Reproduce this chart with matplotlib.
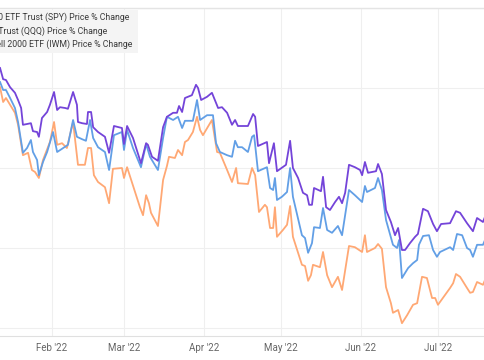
import numpy as np
import matplotlib
matplotlib.use("Agg")
import matplotlib.pyplot as plt
import matplotlib.dates as mdates
from matplotlib.patches import Rectangle

# x values: days since 2022-01-01 ; y values: price % change
spy_days = [10.8, 12.0, 13.1, 14.7, 16.6, 17.8, 19.0, 19.7, 21.3, 22.8, 23.6, 25.2, 25.9, 27.1, 29.1, 30.2,
            31.8, 33.0, 34.1, 36.1, 37.2, 39.2, 40.7, 41.1, 42.7, 44.6, 45.0, 46.2, 47.0, 48.9, 51.6, 53.2,
            55.1, 58.2, 59.0, 60.2, 62.5, 65.6, 67.6, 68.3, 69.9, 72.2, 74.2, 75.7, 78.1, 79.6, 80.4, 81.6,
            82.7, 85.4, 87.0, 87.8, 89.0, 91.3, 93.2, 95.6, 97.1, 99.1, 101.0, 102.2, 103.3, 107.2, 109.2,
            110.0, 111.1, 114.6, 115.4, 117.3, 118.5, 122.0, 123.6, 124.7, 126.7, 128.6, 130.2, 131.0, 132.1,
            132.9, 135.6, 136.4, 137.6, 139.1, 141.1, 142.6, 143.8, 145.0, 146.5, 148.8, 150.8, 151.6, 152.7,
            153.9, 157.0, 157.8, 159.3, 160.9, 162.8, 164.4, 165.6, 167.1, 168.3, 170.2, 172.2, 173.3, 175.3,
            177.2, 179.2, 180.7, 182.3, 185.8, 188.1, 189.7, 192.4, 194.7, 196.3, 198.6, 199.4]
spy_vals = [-7.5, -8.9, -9.0, -9.9, -10.6, -11.5, -12.5, -14.6, -14.5, -14.4, -15.4, -15.5, -16.1, -13.75, -13.0, -12.1,
            -10.5, -12.75, -12.4, -12.5, -12.6, -10.5, -12.1, -14.25, -14.4, -14.5, -13.0, -13.0, -14.9, -15.5, -16.1, -18.1,
            -14.75, -15.0, -17.0, -14.75, -16.25, -19.4, -16.9, -17.1, -18.6, -19.1, -14.9, -13.6, -13.1, -13.1, -12.25, -13.0,
            -11.25, -10.9, -9.6, -10.0, -11.5, -11.1, -10.6, -12.5, -12.4, -13.1, -14.6, -14.0, -14.75, -14.75, -13.25,
            -13.6, -17.25, -16.75, -19.4, -16.9, -20.4, -19.6, -16.6, -20.0, -21.25, -23.1, -23.4, -24.6, -24.6,
            -22.5, -22.9, -21.1, -24.9, -25.25, -24.25, -23.6, -24.4, -23.1, -19.6, -19.9, -20.25, -20.9, -19.25,
            -20.6, -20.4, -19.5, -20.75, -25.25, -26.75, -28.4, -27.5, -30.25, -30.25, -29.4, -28.6, -28.25, -25.1,
            -25.4, -27.0, -27.9, -27.0, -26.9, -25.4, -25.6, -26.9, -27.9, -26.25, -26.75, -26.1]

iwm_days = [10.8, 12.0, 13.1, 14.7, 16.6, 17.8, 19.7, 21.3, 22.8, 23.6, 25.2, 25.9, 27.5, 29.1, 31.4, 33.0,
            34.9, 37.2, 39.2, 40.7, 42.7, 44.2, 45.8, 47.0, 48.9, 51.6, 53.2, 55.1, 58.2, 59.0, 60.2, 62.5,
            65.6, 67.6, 69.1, 72.2, 74.2, 75.7, 78.1, 80.0, 81.6, 82.7, 85.8, 87.4, 88.6, 91.3, 93.6, 94.8,
            96.3, 99.1, 101.0, 102.2, 103.3, 104.9, 107.2, 108.8, 109.6, 111.1, 114.6, 115.8, 117.0, 117.7,
            118.5, 120.4, 122.4, 123.6, 124.7, 128.2, 129.4, 130.6, 132.1, 132.9, 135.2, 136.4, 138.0, 139.9,
            142.2, 143.8, 146.5, 148.8, 151.6, 152.7, 153.5, 156.6, 157.8, 159.3, 160.9, 163.6, 165.2, 166.0,
            167.1, 169.5, 171.4, 173.0, 173.7, 175.3, 177.6, 179.2, 180.7, 181.9, 185.8, 187.0, 188.5, 190.5,
            192.4, 193.6, 194.7, 196.3, 198.6, 199.4]
iwm_vals = [-9.25, -10.25, -10.25, -11.25, -12.5, -14.25, -18.1, -17.5, -16.5, -18.0, -19.0, -20.9, -19.25, -18.0, -15.5, -18.0,
            -17.6, -17.1, -14.0, -16.1, -16.4, -16.6, -14.0, -16.25, -17.4, -18.0, -20.25, -15.9, -15.5, -17.75, -15.25, -17.5,
            -19.9, -17.0, -18.6, -20.25, -16.25, -13.6, -14.0, -13.6, -15.0, -14.1, -14.1, -11.5, -14.0, -13.4, -13.4, -16.9,
            -18.0, -18.4, -18.6, -16.6, -17.4, -17.4, -18.0, -16.1, -15.9, -20.4, -19.9, -22.5, -22.75, -21.25,
            -24.0, -23.6, -23.0, -20.0, -23.6, -28.4, -28.75, -30.6, -29.4, -27.4, -27.5, -25.0, -27.75, -28.1,
            -27.25, -28.4, -22.75, -23.4, -24.25, -22.25, -23.0, -22.5, -21.25, -22.75, -26.5, -29.6, -30.0, -29.0,
            -33.75, -32.5, -31.9, -31.5, -29.6, -28.5, -28.4, -30.25, -31.1, -30.5, -29.9, -30.25, -28.25, -28.4,
            -30.0, -30.25, -31.1, -29.6, -29.6, -29.0]

qqq_days = [10.8, 12.0, 13.1, 14.7, 16.6, 17.8, 19.7, 21.7, 23.2, 24.4, 25.9, 27.5, 30.2, 31.8, 33.0, 34.9,
            36.8, 39.2, 41.1, 43.8, 45.0, 46.2, 47.3, 48.9, 51.6, 53.2, 54.7, 58.2, 59.0, 60.2, 65.2, 66.4,
            67.6, 68.7, 69.5, 72.2, 73.0, 74.2, 75.7, 76.5, 78.8, 80.0, 81.6, 82.7, 83.9, 85.8, 87.4, 88.6,
            89.7, 93.2, 95.2, 96.3, 99.1, 101.0, 102.6, 103.3, 107.2, 108.8, 110.0, 111.5, 113.8, 114.6,
            115.8, 117.0, 117.7, 118.5, 120.8, 122.4, 123.6, 124.7, 128.2, 129.4, 130.6, 131.7, 132.5, 135.2,
            136.4, 138.0, 139.9, 142.2, 143.8, 146.5, 148.8, 151.6, 152.7, 153.5, 156.6, 157.8, 159.3, 160.9,
            162.8, 163.6, 165.6, 167.1, 169.1, 171.4, 173.0, 174.9, 176.8, 178.8, 180.0, 181.1, 185.8, 187.0,
            188.1, 189.7, 192.4, 193.6, 194.7, 196.3, 198.6, 199.4]
qqq_vals = [-9.9, -11.75, -11.25, -12.1, -13.1, -14.6, -18.4, -18.1, -20.25, -20.5, -21.25, -19.0, -16.75, -14.25, -17.1, -16.9,
            -17.5, -14.25, -19.6, -19.6, -17.5, -17.5, -20.9, -21.75, -22.4, -24.4, -20.1, -20.0, -21.25, -19.9, -24.9, -25.9,
            -23.4, -24.4, -25.6, -27.25, -25.0, -21.5, -19.75, -18.6, -18.75, -17.75, -18.4, -16.75, -16.5, -15.5, -13.6, -15.25,
            -15.9, -14.0, -18.0, -18.1, -20.25, -21.75, -20.0, -21.9, -22.0, -20.0, -20.9, -25.5, -24.6, -24.9,
            -27.5, -27.5, -24.9, -28.6, -27.75, -27.1, -24.75, -28.6, -32.1, -32.25, -34.1, -33.4, -32.1, -32.4,
            -30.5, -33.4, -34.9, -33.6, -35.25, -29.75, -29.9, -30.5, -28.4, -30.5, -30.0, -29.5, -30.1, -34.9,
            -36.9, -38.1, -37.75, -39.4, -38.4, -37.1, -36.9, -33.6, -33.75, -36.25, -36.25, -37.1, -35.0, -34.4,
            -33.25, -33.6, -35.0, -35.6, -35.5, -34.25, -34.6, -34.0]

series_names = ["SPDR S&P 500 ETF Trust (SPY) Price % Change",
                "Invesco QQQ Trust (QQQ) Price % Change",
                "iShares Russell 2000 ETF (IWM) Price % Change"]
month_ticks = ["2022-02-01", "2022-03-01", "2022-04-01", "2022-05-01", "2022-06-01", "2022-07-01"]
y_grid = [0, -10, -20, -30, -40]

base = np.datetime64("2022-01-01T00:00")
def to_dates(days):
    return base + (np.array(days) * 24 * 60).astype("timedelta64[m]")

W, H = 485, 360
fig = plt.figure(figsize=(W / 100, H / 100), dpi=100)
fig.patch.set_facecolor("white")
ax = fig.add_axes([0, 24 / H, 1, 328 / H])
ax.set_facecolor("white")

c_purple = "#7444d9"
c_blue = "#629fe6"
c_orange = "#ffa874"

ax.plot(to_dates(qqq_days), qqq_vals, color=c_orange, lw=1.3, zorder=3, solid_joinstyle="round")
ax.plot(to_dates(iwm_days), iwm_vals, color=c_blue, lw=1.3, zorder=4, solid_joinstyle="round")
ax.plot(to_dates(spy_days), spy_vals, color=c_purple, lw=1.3, zorder=5, solid_joinstyle="round")

ax.set_xlim(to_dates([10.78])[0], to_dates([10.78 + 485 * 0.38889])[0])
ax.set_ylim(-41, 0)

ax.set_yticks(y_grid)
ax.set_yticklabels([])
ax.tick_params(axis="y", length=0)
ax.set_xticks([np.datetime64(d) for d in month_ticks])
ax.xaxis.set_major_formatter(mdates.DateFormatter("%b '%y"))
ax.tick_params(axis="x", length=0, pad=5, labelsize=7, labelcolor="#666666")
for lab in ax.get_xticklabels():
    lab.set_fontfamily("Roboto")

ax.grid(True, color="#efefef", lw=0.8, zorder=0)
for s in ["left", "right"]:
    ax.spines[s].set_visible(False)
ax.spines["top"].set_color("#e4e4e4")
ax.spines["top"].set_linewidth(1.0)
ax.spines["bottom"].set_color("#e0e0e0")
ax.spines["bottom"].set_linewidth(0.8)

# legend box (cropped at left edge, as in the reference)
fig.patches.append(Rectangle((0, 1 - 53 / H), 138 / W, 43 / H, transform=fig.transFigure,
                             facecolor="#f4f4f4", edgecolor="none", zorder=6))
texts = []
for name, yp in zip(series_names, [17, 31, 44]):
    t = fig.text(0, 1 - yp / H, name, fontsize=6.3, fontfamily="Roboto", color="#3a3a3a",
                 va="center", ha="left", zorder=7)
    texts.append(t)
fig.canvas.draw()
r = fig.canvas.get_renderer()
w1 = texts[0].get_window_extent(r).width
x0 = (129 - w1) / W
for t in texts:
    t.set_x(x0)

fig.savefig("out.png", dpi=100, facecolor="white")
